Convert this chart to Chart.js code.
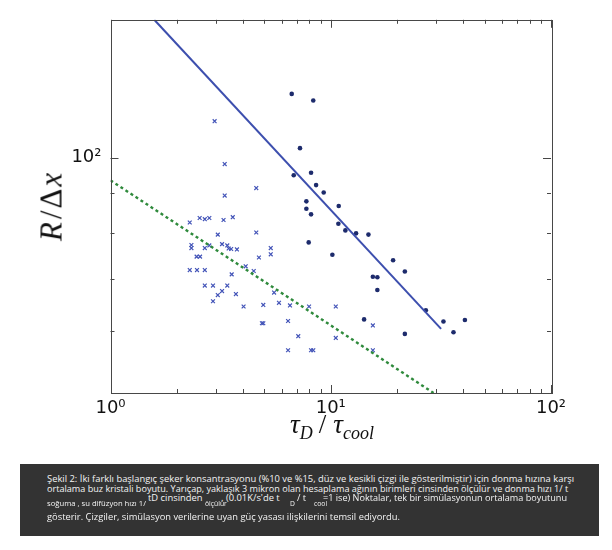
<!DOCTYPE html>
<html>
<head>
<meta charset="utf-8">
<script src="https://cdn.jsdelivr.net/npm/chart.js@4.4.1/dist/chart.umd.min.js"></script>
<style>
  html, body { margin: 0; padding: 0; background: #ffffff; }
  #wrap { position: relative; width: 612px; height: 550px; overflow: hidden; background: #fff; }
  #c { position: absolute; left: 0; top: 0; }
  .ttl { position: absolute; font-family: "Liberation Serif", "DejaVu Serif", serif; color: #111; white-space: nowrap; }
  .ttl i { font-style: italic; }
  .sb { font-size: 18px; vertical-align: -6px; font-style: italic; }
  .sl { display: inline-block; margin: 0 7px 0 6px; }
  #cap { position: absolute; left: 19.5px; top: 463.5px; width: 579px; height: 72px; background: #333333; }
  #cap span { position: absolute; color: #f4f4f4; font-family: "Open Sans", "Noto Sans", sans-serif; white-space: nowrap; line-height: 10px; transform-origin: 0 50%; }
  #cap .m { font-size: 9px; }
  #cap .s { font-size: 6.5px; }
</style>
</head>
<body>
<div id="wrap">
  <canvas id="c" width="612" height="460"></canvas>
  <div class="ttl" id="xt" style="left:332px; top:411px; font-size:27px; line-height:27px; transform:translateX(-50%);"><i>τ</i><span class="sb">D</span><span class="sl">/</span><i>τ</i><span class="sb">cool</span></div>
  <div class="ttl" id="yt" style="left:51px; top:207px; font-size:31px; line-height:31px; transform:translate(-50%,-50%) rotate(-90deg);"><i>R</i><span style="margin:0 2px 0 3px;">/</span>Δ<i style="margin-left:2px;">x</i></div>
  <div id="cap">
    <span class="m" data-w="527" style="left:27.5px; top:10px;">Şekil 2: İki farklı başlangıç şeker konsantrasyonu (%10 ve %15, düz ve kesikli çizgi ile gösterilmiştir) için donma hızına karşı</span>
    <span class="m" data-w="521" style="left:27.5px; top:20px;">ortalama buz kristali boyutu. Yarıçap, yaklaşık 3 mikron olan hesaplama ağının birimleri cinsinden ölçülür ve donma hızı 1/ t</span>
    <span class="m" data-k="1" style="left:128.5px; top:29px;">tD cinsinden</span>
    <span class="m" data-k="1" style="left:201px; top:29px;">. (0.01K/s'de t</span>
    <span class="m" data-k="1" style="left:277px; top:29px;">/ t</span>
    <span class="m" data-w="244" style="left:303px; top:29px;">=1 ise) Noktalar, tek bir simülasyonun ortalama boyutunu</span>
    <span class="s" data-w="99" style="left:27.5px; top:35px;">soğuma , su difüzyon hızı 1/</span>
    <span class="s" data-k="1" style="left:185px; top:35px;">ölçülür</span>
    <span class="s" data-k="1" style="left:270px; top:35px;">D</span>
    <span class="s" data-k="1" style="left:294.5px; top:35px;">cool</span>
    <span class="m" data-w="353" style="left:27.5px; top:48px;">gösterir. Çizgiler, simülasyon verilerine uyan güç yasası ilişkilerini temsil ediyordu.</span>
  </div>
</div>
<script>
// ---- data ----
const dotX = [6.65, 8.33, 7.25, 6.79, 8.14, 8.58, 9.29, 7.75, 7.75, 8.14, 10.87, 10.83, 11.65, 13.03, 14.83, 7.94, 10.17, 19.19, 21.70, 15.53, 16.28, 16.28, 27.03, 14.17, 32.49, 40.65, 36.08, 21.70];
const dotY = [120.6, 118.3, 102.8, 94.9, 95.6, 92.2, 90.2, 87.9, 86.0, 84.6, 86.7, 82.3, 80.7, 80.0, 79.7, 77.9, 75.1, 73.9, 71.5, 70.4, 70.3, 67.7, 63.8, 62.1, 61.7, 62.0, 59.8, 59.5];

const crossX = [2.97, 3.30, 4.59, 3.30, 2.29, 2.54, 2.68, 2.81, 3.26, 3.59, 4.59, 3.07, 2.33, 2.33, 2.68, 2.81, 3.21, 3.39, 3.44, 3.53, 3.75, 5.34, 5.34, 4.72, 2.46, 2.55, 2.29, 2.47, 2.68, 4.11, 4.47, 3.55, 2.68, 2.92, 3.39, 3.21, 3.07, 2.92, 3.71, 5.53, 4.02, 4.94, 5.82, 6.53, 7.97, 10.54, 4.87, 4.94, 6.40, 7.12, 10.54, 15.53, 6.40, 8.14, 8.33, 15.53];
const crossY = [111.3, 98.1, 91.4, 89.4, 82.6, 83.7, 83.4, 83.7, 83.2, 83.9, 80.2, 79.7, 77.3, 76.6, 76.6, 77.2, 77.5, 77.2, 76.5, 76.4, 76.3, 76.6, 75.2, 74.5, 74.7, 74.7, 71.8, 71.8, 71.8, 72.6, 71.6, 70.9, 68.6, 68.6, 68.6, 67.5, 66.7, 65.5, 66.9, 67.2, 64.5, 64.8, 65.2, 64.7, 64.5, 64.5, 61.4, 61.4, 61.8, 59.1, 58.8, 61.0, 56.7, 56.7, 56.7, 56.7];

const solidFitX = [1.58, 31.7];
const solidFitY = [150, 60.4];
const dottedFitX = [1.0, 29.3];
const dottedFitY = [93.5, 50];

const xRange = [1, 100];
const yRange = [50, 150];
const xTickValues = [1, 10, 100];
const xTickLabels = ['10⁰', '10¹', '10²'];
const xMinorTicks = [2, 3, 4, 5, 6, 7, 8, 9, 20, 30, 40, 50, 60, 70, 80, 90];
const yTickValues = [100];
const yTickLabels = ['10²'];
const yMinorTicks = [60, 70, 80, 90];

const pts = (xs, ys) => xs.map((x, i) => ({ x: x, y: ys[i] }));

const framePlugin = {
  id: 'frame',
  afterDatasetsDraw(chart) {
    const { ctx, chartArea: a, scales } = chart;
    const xs = scales.x, ys = scales.y;
    ctx.save();
    ctx.strokeStyle = '#474747';
    ctx.lineWidth = 1;
    ctx.strokeRect(Math.round(a.left) + 0.5, Math.round(a.top) + 0.5, Math.round(a.right - a.left), Math.round(a.bottom - a.top));
    const tick = (x1, y1, x2, y2) => { ctx.beginPath(); ctx.moveTo(x1, y1); ctx.lineTo(x2, y2); ctx.stroke(); };
    const bx = (v, len) => {
      const p = Math.round(xs.getPixelForValue(v)) + 0.5;
      tick(p, a.bottom, p, a.bottom - len);
      tick(p, a.top, p, a.top + len);
    };
    const by = (v, len) => {
      const p = Math.round(ys.getPixelForValue(v)) + 0.5;
      tick(a.left, p, a.left + len, p);
      tick(a.right, p, a.right - len, p);
    };
    xTickValues.forEach(v => bx(v, 8));
    xMinorTicks.forEach(v => bx(v, 4));
    yTickValues.forEach(v => by(v, 8));
    yMinorTicks.forEach(v => by(v, 4));
    ctx.restore();
  }
};

new Chart(document.getElementById('c'), {
  type: 'scatter',
  data: {
    datasets: [
      {
        label: 'fit 10%',
        type: 'line',
        data: pts(solidFitX, solidFitY),
        borderColor: '#3d4fae',
        borderWidth: 2,
        pointRadius: 0,
        fill: false,
        tension: 0
      },
      {
        label: 'fit 15%',
        type: 'line',
        data: pts(dottedFitX, dottedFitY),
        borderColor: '#2f8a3c',
        borderWidth: 2.4,
        borderDash: [3, 3],
        pointRadius: 0,
        fill: false,
        tension: 0
      },
      {
        label: 'crosses',
        data: pts(crossX, crossY),
        pointStyle: 'crossRot',
        pointRadius: 2.7,
        pointBorderWidth: 1.2,
        borderColor: '#4354b8',
        backgroundColor: '#4354b8'
      },
      {
        label: 'dots',
        data: pts(dotX, dotY),
        pointStyle: 'circle',
        pointRadius: 2.3,
        pointBorderWidth: 0,
        borderColor: '#1d2b6c',
        backgroundColor: '#1d2b6c'
      }
    ]
  },
  options: {
    responsive: false,
    animation: false,
    devicePixelRatio: 1,
    layout: { padding: { top: 13, right: 61, left: 0, bottom: 0 } },
    plugins: { legend: { display: false }, tooltip: { enabled: false }, title: { display: false } },
    scales: {
      x: {
        type: 'logarithmic',
        min: xRange[0], max: xRange[1],
        afterBuildTicks: s => { s.ticks = xTickValues.map(v => ({ value: v })); },
        afterFit: s => { s.height = 67; },
        ticks: {
          autoSkip: false, maxRotation: 0, minRotation: 0, padding: 5,
          color: '#111',
          font: { family: 'DejaVu Sans', size: 18 },
          callback: (v) => { const i = xTickValues.indexOf(v); return i >= 0 ? xTickLabels[i] : ''; }
        },
        grid: { display: false, drawTicks: false },
        border: { display: false }
      },
      y: {
        type: 'logarithmic',
        min: yRange[0], max: yRange[1],
        afterBuildTicks: s => { s.ticks = yTickValues.map(v => ({ value: v })); },
        afterFit: s => { s.width = 110.5; },
        ticks: {
          autoSkip: false, padding: 9,
          color: '#111',
          font: { family: 'DejaVu Sans', size: 18 },
          callback: (v) => { const i = yTickValues.indexOf(v); return i >= 0 ? yTickLabels[i] : ''; }
        },
        grid: { display: false, drawTicks: false },
        border: { display: false }
      }
    }
  },
  plugins: [framePlugin]
});

// fit caption line widths to the reference
(function () {
  let k = 1;
  const first = document.querySelector('#cap span[data-w]');
  document.querySelectorAll('#cap span[data-w]').forEach(el => {
    const w = el.getBoundingClientRect().width;
    const s = parseFloat(el.dataset.w) / w;
    if (el === first) k = s;
    el.style.transform = 'scaleX(' + s.toFixed(3) + ')';
  });
  document.querySelectorAll('#cap span[data-k]').forEach(el => {
    el.style.transform = 'scaleX(' + k.toFixed(3) + ')';
  });
})();
</script>
</body>
</html>
